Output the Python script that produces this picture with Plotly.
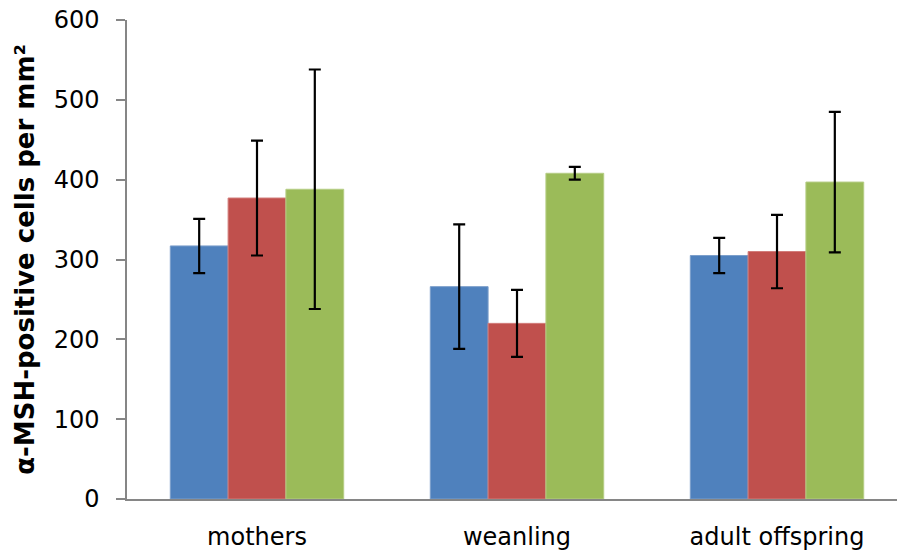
import plotly.graph_objects as go

categories = ["mothers", "weanling", "adult offspring"]
series_names = ["Series 1", "Series 2", "Series 3"]
blue_vals = [317, 266, 305]
blue_err = [34, 78, 22]
red_vals = [377, 220, 310]
red_err = [72, 42, 46]
green_vals = [388, 408, 397]
green_err = [150, 8, 88]
colors = ["#4F81BD", "#C0504D", "#9BBB59"]
edge_colors = ["#7C9FCB", "#D27C7A", "#B5CD85"]
y_ticks = [0, 100, 200, 300, 400, 500, 600]

fig = go.Figure()
for name, vals, errs, c, ec in zip(series_names,
                                   [blue_vals, red_vals, green_vals],
                                   [blue_err, red_err, green_err],
                                   colors, edge_colors):
    fig.add_trace(go.Bar(
        x=[0, 1, 2], y=vals, name=name,
        marker=dict(color=c, line=dict(color=ec, width=1)),
        error_y=dict(type="data", array=errs, visible=True,
                     color="black", thickness=2.2, width=6),
    ))

fig.update_layout(
    width=897, height=551,
    margin=dict(l=127, r=0, t=20, b=52),
    paper_bgcolor="white", plot_bgcolor="white",
    barmode="group", bargap=0.333, bargroupgap=0,
    showlegend=False,
    font=dict(family="DejaVu Sans, Verdana, sans-serif", color="black"),
)
fig.update_xaxes(
    range=[-0.5, 2.4615], tickvals=[0, 1, 2], ticktext=categories,
    showline=True, linecolor="#868686", linewidth=1.5,
    ticks="", showgrid=False, zeroline=False, automargin=False,
    tickfont=dict(size=24), ticklabelstandoff=15,
)
fig.update_yaxes(
    range=[0, 600], tickvals=y_ticks,
    showline=True, linecolor="#868686", linewidth=1.5,
    ticks="outside", ticklen=9, tickcolor="#868686", tickwidth=1.5,
    showgrid=False, zeroline=False, automargin=False,
    tickfont=dict(size=24), ticklabelstandoff=12,
    title=dict(text="<b>α-MSH-positive cells per mm²</b>",
               font=dict(size=26), standoff=12),
)

fig.write_html("out.html", config={"displayModeBar": False})

# remove the default page margin so the figure sits at the window's corner
with open("out.html", "r", encoding="utf-8") as f:
    html = f.read()
html = html.replace("<body>", '<body style="margin:0;padding:0;">', 1)
with open("out.html", "w", encoding="utf-8") as f:
    f.write(html)
